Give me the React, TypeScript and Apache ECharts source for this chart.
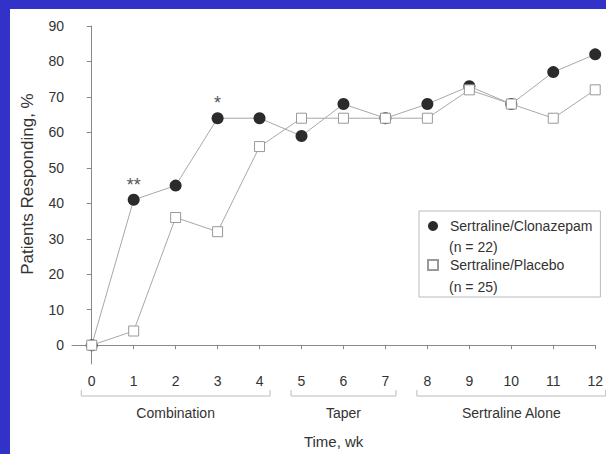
import React, { useEffect, useRef } from "react";
import * as echarts from "echarts";

const weeks = [0, 1, 2, 3, 4, 5, 6, 7, 8, 9, 10, 11, 12];
const clonazepam = [0, 41, 45, 64, 64, 59, 68, 64, 68, 73, 68, 77, 82];
const placebo = [0, 4, 36, 32, 56, 64, 64, 64, 64, 72, 68, 64, 72];
const yTicks = [0, 10, 20, 30, 40, 50, 60, 70, 80, 90];
const seriesNames = ["Sertraline/Clonazepam", "Sertraline/Placebo"];
const sampleSizes = [22, 25];
const sigWeeks = [1, 3];
const sigMarks = ["**", "*"];
const phases = ["Combination", "Taper", "Sertraline Alone"];
const phaseStart = [-0.25, 4.75, 7.75];
const phaseEnd = [4.25, 7.25, 12.25];

const FONT = "'Liberation Sans', Arial, sans-serif";
const TEXT = "#333333";
const BLUE = "#3232c8";

export default function App() {
  const ref = useRef<HTMLDivElement>(null);
  useEffect(() => {
    if (!ref.current) return;
    const chart = echarts.init(ref.current, undefined, { renderer: "svg" });
    const clonData = weeks.map((w, i) => {
      const k = sigWeeks.indexOf(w);
      if (k >= 0) {
        return {
          value: [w, clonazepam[i]],
          label: {
            show: true,
            position: "top",
            distance: 0,
            formatter: sigMarks[k],
            color: "#555",
            fontSize: 18,
            fontFamily: FONT,
          },
        };
      }
      return [w, clonazepam[i]];
    });
    const option: any = {
      animation: false,
      backgroundColor: "#ffffff",
      textStyle: { fontFamily: FONT, color: TEXT },
      grid: { left: 72, right: 8.3, top: 26, bottom: 90, containLabel: false },
      xAxis: {
        type: "value",
        min: -0.47,
        max: 12,
        name: "Time, wk",
        nameLocation: "middle",
        nameGap: 70,
        nameTextStyle: { fontSize: 15, color: TEXT, fontFamily: FONT },
        axisLine: { show: true, lineStyle: { color: "#888", width: 1 } },
        axisTick: { show: true, length: 4, customValues: weeks, lineStyle: { color: "#888" } },
        axisLabel: { customValues: weeks, fontSize: 14, color: TEXT, margin: 10, fontFamily: FONT },
        splitLine: { show: false },
      },
      yAxis: {
        type: "value",
        min: -5.3,
        max: 90,
        axisLine: { show: true, lineStyle: { color: "#888", width: 1 } },
        axisTick: { show: true, length: 5, customValues: yTicks, lineStyle: { color: "#888" } },
        axisLabel: { customValues: yTicks, fontSize: 14, color: TEXT, margin: 8, fontFamily: FONT },
        splitLine: { show: false },
      },
      legend: {
        orient: "vertical",
        left: 419,
        top: 211,
        itemWidth: 10,
        itemHeight: 10,
        itemGap: 25,
        symbolKeepAspect: true,
        padding: [8, 8, 25, 8],
        borderColor: "#bbbbbb",
        borderWidth: 1,
        textStyle: { fontSize: 14, color: TEXT, fontFamily: FONT, padding: [0, 0, 0, 7] },
        data: [
          { name: seriesNames[0], icon: "circle" },
          { name: seriesNames[1], icon: "rect" },
        ],
      },
      series: [
        {
          name: seriesNames[0],
          type: "line",
          data: clonData,
          symbol: "circle",
          symbolSize: 12,
          itemStyle: { color: "#2b2b2b", borderWidth: 0 },
          lineStyle: { color: "#a8a8a8", width: 1 },
          z: 2,
        },
        {
          name: seriesNames[1],
          type: "line",
          data: weeks.map((w, i) => [w, placebo[i]]),
          symbol: "rect",
          symbolSize: 10,
          itemStyle: { color: "#ffffff", borderColor: "#999999", borderWidth: 1 },
          lineStyle: { color: "#a8a8a8", width: 1 },
          z: 3,
        },
      ],
    };
    chart.setOption(option);

    const px = (x: number) => chart.convertToPixel({ xAxisIndex: 0, yAxisIndex: 0 }, [x, 0])[0];
    const graphics: any[] = [];
    phases.forEach((p, i) => {
      const x0 = px(phaseStart[i]);
      const x1 = px(phaseEnd[i]);
      graphics.push({
        type: "polyline",
        shape: { points: [[x0, 390], [x0, 396], [x1, 396], [x1, 390]] },
        style: { stroke: "#bbbbbb", lineWidth: 1, fill: null },
        silent: true,
      });
      graphics.push({
        type: "text",
        x: (x0 + x1) / 2,
        y: 413,
        style: { text: p, fontSize: 14, fill: TEXT, fontFamily: FONT, textAlign: "center", textVerticalAlign: "middle" },
      });
    });
    graphics.push({
      type: "text",
      x: 27,
      y: 184,
      rotation: Math.PI / 2,
      style: {
        text: "Patients Responding, %",
        fontSize: 17,
        fill: TEXT,
        fontFamily: FONT,
        textAlign: "center",
        textVerticalAlign: "middle",
      },
    });
    sampleSizes.forEach((n, i) => {
      graphics.push({
        type: "text",
        x: 449,
        y: 247 + i * 40,
        style: { text: `(n = ${n})`, fontSize: 14, fill: TEXT, fontFamily: FONT, textVerticalAlign: "middle" },
      });
    });
    graphics.push({ type: "rect", shape: { x: 0, y: 0, width: 10, height: 454 }, style: { fill: BLUE }, z: 100 });
    graphics.push({ type: "rect", shape: { x: 0, y: 0, width: 606, height: 9 }, style: { fill: BLUE }, z: 100 });
    chart.setOption({ graphic: graphics });

    return () => chart.dispose();
  }, []);
  return <div ref={ref} style={{ position: "absolute", left: 0, top: 0, width: 606, height: 454 }} />;
}
